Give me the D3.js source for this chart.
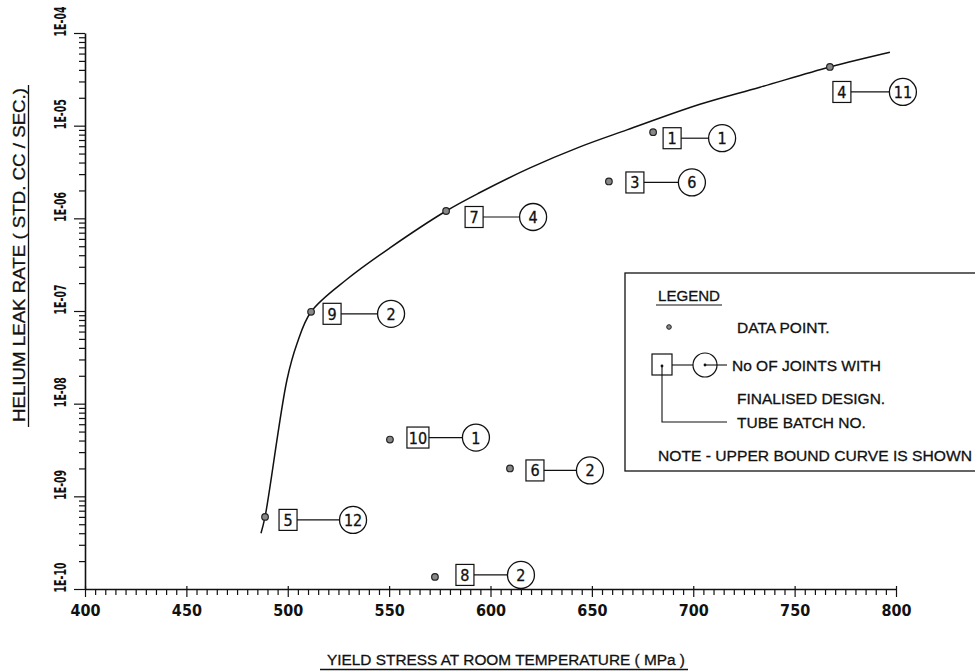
<!DOCTYPE html>
<html>
<head>
<meta charset="utf-8">
<script src="https://cdn.jsdelivr.net/npm/d3@7"></script>
<style>
  html, body { margin: 0; padding: 0; background: #fff; }
  svg { display: block; }
  text { font-family: "Liberation Sans", Arial, sans-serif; fill: #111; stroke: #111; stroke-width: 0.3px; }
  .num { font-family: "Liberation Sans Narrow", "DejaVu Sans Condensed", sans-serif; }
  .tk { font-weight: bold; stroke-width: 0; }
</style>
</head>
<body>
<svg id="chart" width="975" height="672"></svg>
<script>
// ---- data ----
const stress = [488.8, 511.5, 550.4, 572.6, 578.1, 609.6, 658.4, 680.2, 767.4];
const leak   = [6.0e-10, 9.8e-8, 4.1e-9, 1.35e-10, 1.2e-6, 2.0e-9, 2.5e-6, 8.5e-6, 4.3e-5];
const batch  = [5, 9, 10, 8, 7, 6, 3, 1, 4];
const joints = [12, 2, 1, 2, 4, 2, 6, 1, 11];

// upper bound curve
const curveStress = [486.8, 488.8, 499.6, 504.5, 511.5, 529.2, 550.4, 578.1, 594.8, 619.5, 644.1, 667.3, 703.3, 732.9, 767.4, 797.0];
const curveLeak   = [4.0e-10, 6.0e-10, 1.8e-8, 4.4e-8, 9.8e-8, 2.2e-7, 4.8e-7, 1.2e-6, 1.9e-6, 3.5e-6, 5.9e-6, 9.0e-6, 1.7e-5, 2.6e-5, 4.3e-5, 6.2e-5];

const xTicks = [400, 450, 500, 550, 600, 650, 700, 750, 800];
const yTickLabels = ["1E-10", "1E-09", "1E-08", "1E-07", "1E-06", "1E-05", "1E-04"];

const xTitle = "YIELD STRESS AT ROOM TEMPERATURE ( MPa )";
const yTitle = "HELIUM LEAK RATE ( STD. CC / SEC.)";
const legendLines = ["LEGEND", "DATA POINT.", "No OF JOINTS WITH", "FINALISED DESIGN.", "TUBE BATCH NO.", "NOTE - UPPER BOUND CURVE IS SHOWN"];

// ---- layout ----
const svg = d3.select("#chart");
const x = d3.scaleLinear().domain([400, 800]).range([85, 896]);
const y = d3.scaleLog().domain([1e-10, 1e-4]).range([589, 33]);
const ink = "#111";

// X axis
const xMinor = d3.range(400, 801, 5);
const gx = svg.append("g").attr("transform", `translate(0,${y(1e-10)})`)
  .call(d3.axisBottom(x).tickValues(xMinor).tickSize(6).tickSizeOuter(0)
    .tickFormat(d => xTicks.includes(d) ? d : ""));
gx.select(".domain").attr("stroke", ink).attr("stroke-width", 1.6);
gx.selectAll(".tick line").attr("stroke", ink).attr("stroke-width", 1.2)
  .attr("y1", d => xTicks.includes(d) ? -3 : 0)
  .attr("y2", d => xTicks.includes(d) ? 8 : 6);
gx.selectAll(".tick text").attr("class", "num tk").attr("y", 16).attr("dy", "0.71em")
  .attr("font-size", 16).attr("fill", ink).attr("font-family", null);

// Y axis
const yAll = [];
for (let e = -10; e < -4; e++) for (let m = 1; m < 10; m++) yAll.push(m * Math.pow(10, e));
yAll.push(1e-4);
const isMajor = d => Math.abs(Math.log10(d) - Math.round(Math.log10(d))) < 1e-6;
const majorIdx = d => Math.round(Math.log10(d)) + 10;
const gy = svg.append("g").attr("transform", `translate(${x(400)},0)`)
  .call(d3.axisLeft(y).tickValues(yAll).tickSize(6).tickSizeOuter(0)
    .tickFormat(d => isMajor(d) ? yTickLabels[majorIdx(d)] : ""));
gy.select(".domain").attr("stroke", ink).attr("stroke-width", 1.6);
gy.selectAll(".tick line").attr("stroke", ink).attr("stroke-width", 1.2)
  .attr("x2", d => isMajor(d) ? -11 : -6);
gy.selectAll(".tick text").attr("class", "num tk")
  .attr("font-size", 16).attr("fill", ink).attr("font-family", null)
  .attr("text-anchor", "start").attr("dy", 0)
  .attr("x", -3).attr("y", -19)
  .attr("textLength", 30).attr("lengthAdjust", "spacingAndGlyphs")
  .attr("transform", "rotate(-90)");

// Axis titles (underlined)
svg.append("text").attr("x", 506).attr("y", 665).attr("text-anchor", "middle")
  .attr("font-size", 15.5).attr("textLength", 358).attr("lengthAdjust", "spacingAndGlyphs").text(xTitle);
svg.append("line").attr("x1", 320).attr("x2", 688)
  .attr("y1", 669.5).attr("y2", 669.5).attr("stroke", ink).attr("stroke-width", 1.3);

svg.append("text").attr("transform", "translate(25,255) rotate(-90)")
  .attr("text-anchor", "middle").attr("font-size", 16)
  .attr("textLength", 334).attr("lengthAdjust", "spacingAndGlyphs").text(yTitle);
svg.append("line").attr("x1", 28.5).attr("x2", 28.5)
  .attr("y1", 85).attr("y2", 427)
  .attr("stroke", ink).attr("stroke-width", 1.3);

// Upper bound curve
const line = d3.line().x(d => x(d[0])).y(d => y(d[1])).curve(d3.curveCatmullRom.alpha(0.5));
svg.append("path").datum(curveStress.map((s, i) => [s, curveLeak[i]]))
  .attr("d", line).attr("fill", "none").attr("stroke", ink).attr("stroke-width", 1.5);

// Data points
const pts = stress.map((s, i) => ({ s, l: leak[i], b: batch[i], j: joints[i] }));
svg.append("g").selectAll("circle").data(pts).join("circle")
  .attr("cx", d => x(d.s)).attr("cy", d => y(d.l)).attr("r", 3.3)
  .attr("fill", "#888").attr("stroke", "#222").attr("stroke-width", 1.2);

// Annotation layout (offsets from point, pixels)
const defaultOff = { box: 16, circ: 84, dy: 2 };
const specialOff = {
  5: { box: 14, circ: 88, dy: 3 }, 9: { box: 12, circ: 80, dy: 2 }, 10: { box: 17, circ: 86, dy: -2 },
  8: { box: 21, circ: 86, dy: -2 }, 7: { box: 19, circ: 87, dy: 6 }, 6: { box: 16, circ: 80, dy: 2 },
  3: { box: 17, circ: 83, dy: 1 }, 1: { box: 10, circ: 69, dy: 6 }, 4: { box: 3, circ: 73, dy: 25 }
};
const ann = svg.append("g");
pts.forEach(d => {
  const o = specialOff[d.b] || defaultOff;
  const px = x(d.s), py = y(d.l) + o.dy;
  const bw = d.b >= 10 ? 22 : 18, bh = 21;
  const bx = px + o.box;
  ann.append("rect").attr("x", bx).attr("y", py - bh / 2).attr("width", bw).attr("height", bh)
    .attr("fill", "#fff").attr("stroke", ink).attr("stroke-width", 1.2);
  ann.append("text").attr("class", "num").attr("x", bx + bw / 2).attr("y", py + 6).attr("text-anchor", "middle")
    .attr("font-size", 16).text(d.b);
  const cx = px + o.circ, r = 13.5;
  ann.append("line").attr("x1", bx + bw).attr("x2", cx - r).attr("y1", py).attr("y2", py)
    .attr("stroke", ink).attr("stroke-width", 1.2);
  ann.append("circle").attr("cx", cx).attr("cy", py).attr("r", r)
    .attr("fill", "#fff").attr("stroke", ink).attr("stroke-width", 1.3);
  ann.append("text").attr("class", "num").attr("x", cx).attr("y", py + 6).attr("text-anchor", "middle")
    .attr("font-size", 16).text(d.j);
});

// Legend
const lg = svg.append("g");
const L = 625, T = 273;
lg.append("rect").attr("x", L).attr("y", T).attr("width", 420).attr("height", 198)
  .attr("fill", "#fff").attr("stroke", ink).attr("stroke-width", 1.3);
lg.append("text").attr("x", L + 33).attr("y", T + 28).attr("font-size", 15)
  .attr("textLength", 62).attr("lengthAdjust", "spacingAndGlyphs").text(legendLines[0]);
lg.append("line").attr("x1", L + 31).attr("x2", L + 97).attr("y1", T + 32).attr("y2", T + 32)
  .attr("stroke", ink).attr("stroke-width", 1.1);
lg.append("circle").attr("cx", L + 44).attr("cy", T + 54).attr("r", 2.3).attr("fill", "#888").attr("stroke", "#222");
lg.append("text").attr("x", L + 112).attr("y", T + 60).attr("font-size", 15.5).text(legendLines[1]);
lg.append("rect").attr("x", L + 27).attr("y", T + 81).attr("width", 20).attr("height", 21)
  .attr("fill", "#fff").attr("stroke", ink).attr("stroke-width", 1.2);
lg.append("circle").attr("cx", L + 37).attr("cy", T + 93).attr("r", 1.4).attr("fill", ink);
lg.append("line").attr("x1", L + 47).attr("x2", L + 68).attr("y1", T + 92).attr("y2", T + 92).attr("stroke", ink).attr("stroke-width", 1.1);
lg.append("circle").attr("cx", L + 80).attr("cy", T + 92).attr("r", 12).attr("fill", "#fff").attr("stroke", ink).attr("stroke-width", 1.2);
lg.append("line").attr("x1", L + 80).attr("x2", L + 102).attr("y1", T + 92).attr("y2", T + 92).attr("stroke", ink).attr("stroke-width", 1.1);
lg.append("circle").attr("cx", L + 80).attr("cy", T + 92).attr("r", 1.4).attr("fill", ink);
lg.append("text").attr("x", L + 107).attr("y", T + 98).attr("font-size", 15.5).text(legendLines[2]);
lg.append("text").attr("x", L + 112).attr("y", T + 131).attr("font-size", 15.5).text(legendLines[3]);
lg.append("path").attr("d", `M${L + 37},${T + 93} V${T + 149} H${L + 102}`).attr("fill", "none").attr("stroke", ink).attr("stroke-width", 1.1);
lg.append("text").attr("x", L + 112).attr("y", T + 155).attr("font-size", 15.5).text(legendLines[4]);
lg.append("text").attr("x", L + 33).attr("y", T + 188).attr("font-size", 15.5)
  .attr("textLength", 314).attr("lengthAdjust", "spacingAndGlyphs").text(legendLines[5]);
</script>
</body>
</html>
